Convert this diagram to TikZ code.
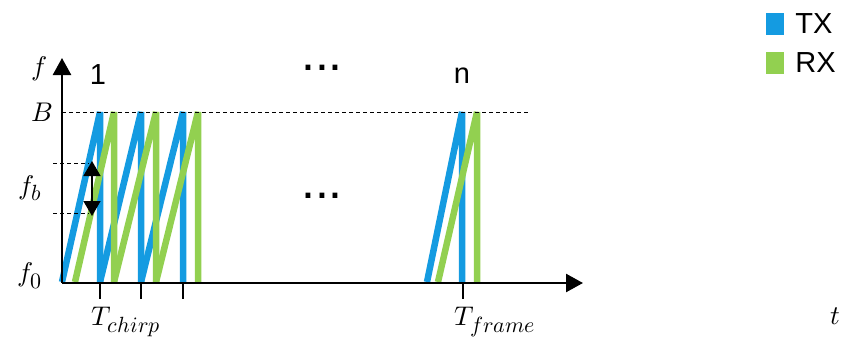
\documentclass[tikz,border=0pt]{standalone}
\usepackage{fontspec}
\usepackage{unicode-math}
\newfontfamily\legendfont{Liberation Sans}
\DeclareMathSizes{27}{27}{22}{17}
\usetikzlibrary{arrows.meta,calc}
\definecolor{txblue}{RGB}{20,155,225}
\definecolor{rxgreen}{RGB}{146,208,80}

\begin{document}
\begin{tikzpicture}[x=1pt,y=-1pt,font=\fontsize{27}{30}\selectfont,inner sep=0pt,
  chirp/.style={line width=6.5pt,line join=bevel},
  axis/.style={line width=2.5pt,-{Triangle[length=17pt,width=18pt]}},
  guide/.style={line width=1pt,dash pattern=on 4pt off 3pt},
  sans/.style={font=\legendfont\fontsize{29}{32}\selectfont},
  dots/.style={font=\legendfont\fontsize{50}{50}\selectfont}]
  \useasboundingbox (0,0) rectangle (843,337);
  % chirps
  \foreach \a/\b in {62/100,100/141,141/183,427/462}
    \draw[chirp,txblue] (\a,282) -- (\b,112) -- (\b,282);
  \foreach \a/\b in {75/114,114/156,156/198,438/477}
    \draw[chirp,rxgreen] (\a,282) -- (\b,112) -- (\b,282);
  % axes
  \coordinate (o) at (62,283);
  \coordinate (ytop) at (62,58);
  \coordinate (xend) at (583,283);
  \draw[axis] (o) -- (ytop);
  \draw[axis] (o) -- (xend);
  \foreach \x in {100,141,183,463}
    \draw[line width=2pt] (\x,283) -- (\x,299);
  % guides
  \coordinate (bl) at (62,112);
  \coordinate (br) at (528,112);
  \draw[guide] (bl) -- (br);
  \coordinate (fbt) at (53,163);
  \coordinate (fbb) at (53,213);
  \draw[guide] (fbt) -- ++(36,0);
  \draw[guide] (fbb) -- ++(36,0);
  \coordinate (at) at (92,161);
  \coordinate (ab) at (92,216);
  \draw[line width=1.5pt,{Triangle[length=15pt,width=17pt]}-{Triangle[length=15pt,width=17pt]}] (at) -- (ab);
  % labels
  \node (flab) at (39,69) {$f$};
  \node (blab) at (42,112) {$B$};
  \node (fblab) at (30,188) {$f_b$};
  \node (f0lab) at (30,276) {$f_0$};
  \node (tclab) at (126,322) {$T_{chirp}$};
  \node (tflab) at (495,322) {$T_{frame}$};
  \node (tlab) at (835,316) {$t$};
  \node[sans] (one) at (98,75) {1};
  \node[sans] (nlab) at (462,76) {n};
  \node[dots] (dtop) at (322,68) {...};
  \node[dots] (dmid) at (322,196) {...};
  % legend
  \node[fill=txblue,minimum width=18pt,minimum height=22pt] (txbox) at (775,24) {};
  \node[fill=rxgreen,minimum width=18pt,minimum height=22pt] (rxbox) at (775,63) {};
  \node[sans,anchor=west] (txlab) at ([xshift=11pt]txbox.east) {TX};
  \node[sans,anchor=west] (rxlab) at ([xshift=11pt]rxbox.east) {RX};
\end{tikzpicture}
\end{document}
